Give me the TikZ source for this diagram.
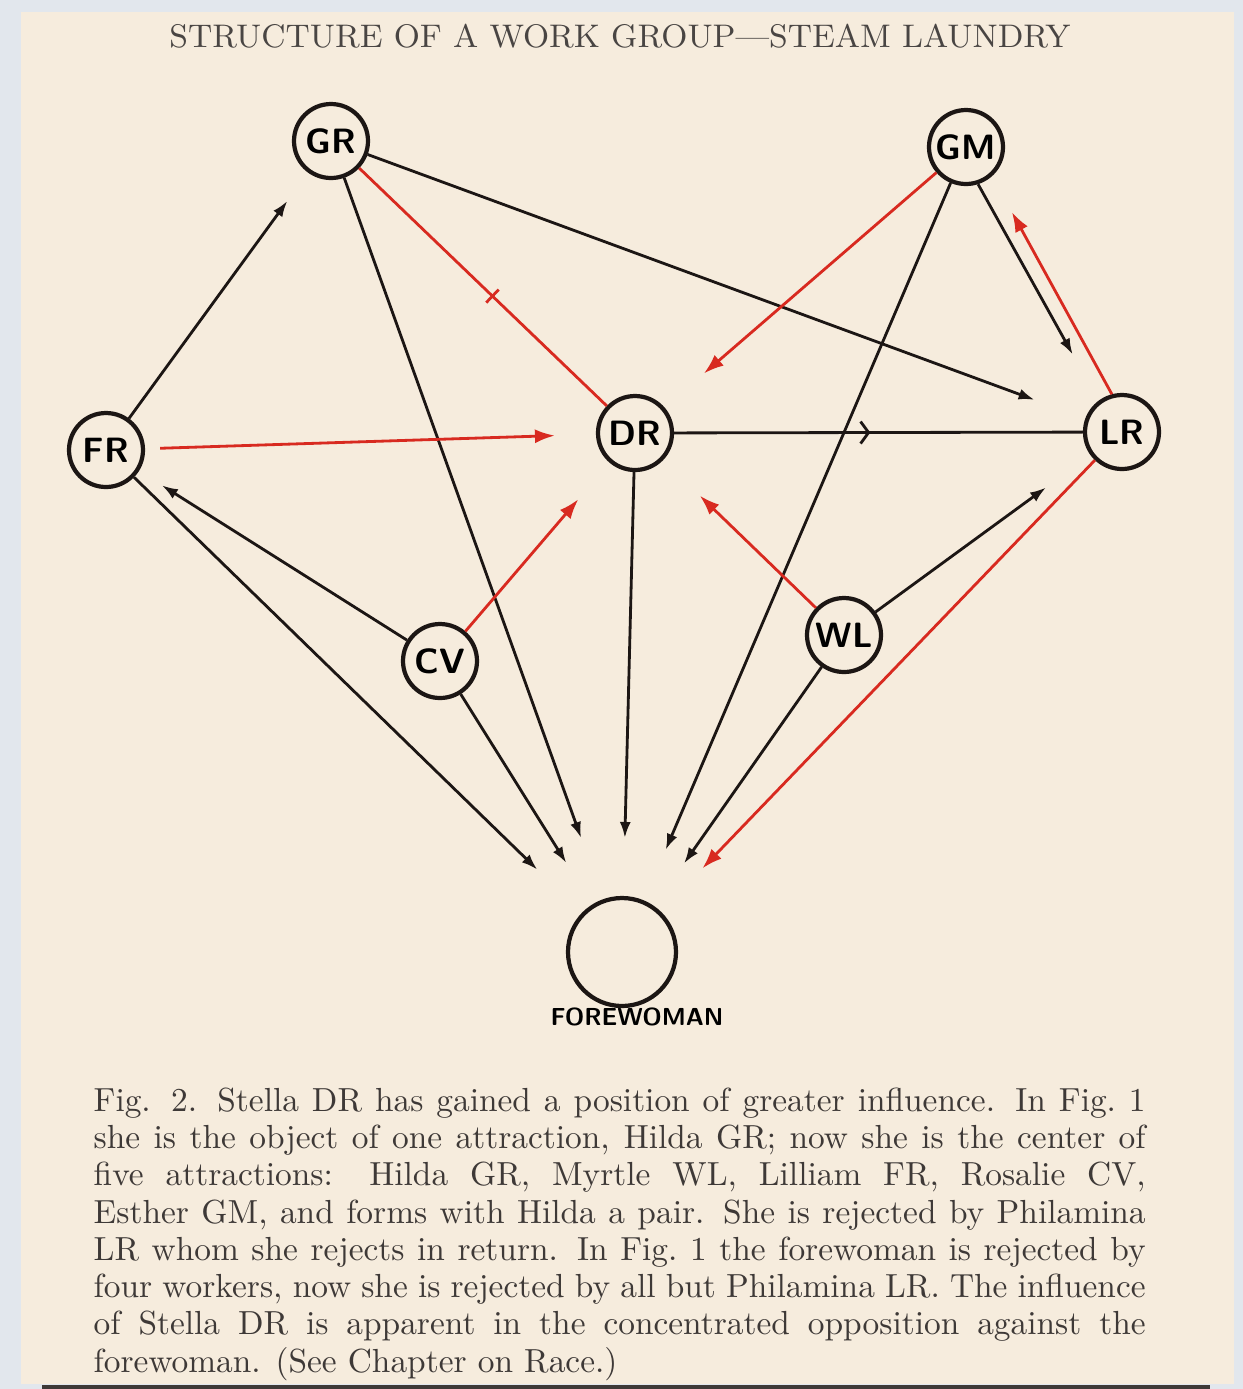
\documentclass[tikz,border=0pt]{standalone}
\usepackage{fontspec}
\usepackage{tikz}
\usetikzlibrary{arrows.meta, positioning, decorations.markings}
\definecolor{pagecream}{RGB}{246,236,221}
\definecolor{deskgray}{RGB}{226,231,237}
\definecolor{inkred}{RGB}{216,42,32}
\definecolor{inkblack}{RGB}{28,22,20}

\begin{document}
\begin{tikzpicture}[x=0.1mm, y=-0.1mm,
    worker/.style={circle, draw=inkblack, line width=1.2pt, minimum size=7.4mm, inner sep=0pt,
      font=\sffamily\bfseries\fontsize{10}{10}\selectfont},
    rej/.style={draw=inkblack, line width=0.8pt, -{Latex[length=1.6mm, width=1.1mm]}},
    att/.style={draw=inkred, line width=0.8pt, -{Latex[length=2mm, width=1.4mm]}},
    midtick/.style={postaction={decorate}, decoration={markings,
      mark=at position #1 with {\draw[inkred, line width=0.8pt] (0,-0.9mm) -- (0,0.9mm);}}},
    midbarb/.style={postaction={decorate}, decoration={markings,
      mark=at position #1 with {\arrow{Straight Barb[length=0.8mm, width=2.2mm]}}}}
  ]
  % Page
  \fill[deskgray] (0,0) rectangle (1243,1389);
  \fill[pagecream] (21,12) rectangle (1234,1384);
  \fill[inkblack!85] (42,1385) rectangle (1210,1389);

  % Title
  \node[text=inkblack!80, font=\fontsize{9.3}{10}\selectfont] (title) at (620,36)
    {STRUCTURE OF A WORK GROUP---STEAM LAUNDRY};

  % Workers
  \node[worker] (gr) at (331,141) {GR};
  \node[worker] (gm) at (966,147) {GM};
  \node[worker] (fr) at (106,450) {FR};
  \node[worker] (dr) at (635,433) {DR};
  \node[worker] (lr) at (1122,432) {LR};
  \node[worker] (cv) at (440,661) {CV};
  \node[worker] (wl) at (844,635) {WL};

  % Forewoman
  \node[circle, draw=inkblack, line width=1.2pt, minimum size=10.8mm] (fw) at (622,952) {};
  \node[font=\sffamily\bfseries\fontsize{7}{8}\selectfont] (fwlabel) at (637,1017) {FOREWOMAN};

  % Rejections (black)
  \draw[rej, shorten >=3.5mm] (fr) -- (gr);
  \draw[rej, shorten >=5.4mm] (gr) -- (lr);
  \draw[rej, shorten >=6.5mm] (gr) -- (fw);
  \draw[rej, shorten >=5.3mm] (gm.-72) -- (lr.127);
  \draw[rej, shorten >=5.5mm] (gm) -- (fw);
  \draw[rej, shorten >=5.8mm] (dr) -- (fw);
  \draw[rej, shorten >=2.7mm] (cv) -- (fr);
  \draw[rej, shorten >=6.2mm] (fr) -- (fw);
  \draw[rej, shorten >=4.9mm] (cv) -- (fw);
  \draw[rej, shorten >=5.5mm] (wl) -- (lr);
  \draw[rej, shorten >=5.2mm] (wl) -- (fw);
  \draw[draw=inkblack, line width=0.8pt, midbarb=0.48] (dr) -- (lr);

  % Attractions (red)
  \draw[att, shorten <=1.5mm, shorten >=4.1mm] (fr) -- (dr);
  \draw[draw=inkred, line width=0.8pt, midtick=0.54] (gr) -- (dr);
  \draw[att, shorten >=5.2mm] (gm) -- (dr);
  \draw[att, shorten >=4.1mm] (lr.105) -- (gm.-48);
  \draw[att, shorten >=4.8mm] (cv) -- (dr);
  \draw[att, shorten >=5.1mm] (wl) -- (dr);
  \draw[att, shorten >=6.0mm] (lr) -- (fw);

  % Caption
  \node[text width=105.2mm, align=justify, inner sep=0pt, anchor=north west, text=inkblack!85,
    font=\fontsize{9.5}{10.6}\selectfont] (caption) at (93,1087)
    {\noindent Fig. 2. Stella DR has gained a position of greater influence. In Fig.~1\linebreak
     she is the object of one attraction, Hilda GR; now she is the center of\linebreak
     five attractions: Hilda GR, Myrtle WL, Lilliam FR, Rosalie CV,\linebreak
     Esther GM, and forms with Hilda a pair. She is rejected by Philamina\linebreak
     LR whom she rejects in return. In Fig.~1 the forewoman is rejected by\linebreak
     four workers, now she is rejected by all but Philamina LR. The influence\linebreak
     of Stella DR is apparent in the concentrated opposition against the\linebreak
     forewoman. (See Chapter on Race.)};
\end{tikzpicture}
\end{document}
